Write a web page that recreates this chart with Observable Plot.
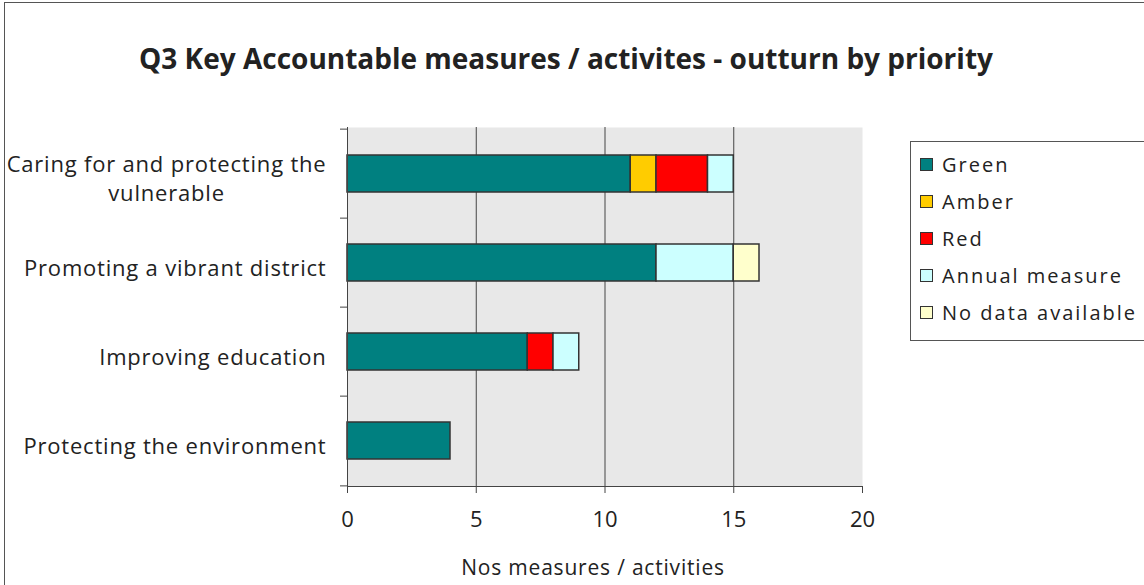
<!DOCTYPE html>
<html><head><meta charset="utf-8">
<script src="https://cdn.jsdelivr.net/npm/d3@7"></script>
<script src="https://cdn.jsdelivr.net/npm/@observablehq/plot@0.6"></script>
<style>
body{margin:0;background:#fff;font-family:"Open Sans",sans-serif;}
#wrap{position:relative;width:1144px;height:585px;overflow:hidden;background:#fff}
#border{position:absolute;left:4px;top:2px;width:1160px;height:620px;border:1px solid #555;box-sizing:border-box;pointer-events:none}
#title{position:absolute;left:0;width:1132px;top:38px;text-align:center;font-weight:bold;font-size:28px;color:#222;line-height:40px}
#chart{position:absolute;left:0;top:0}
#legend{position:absolute;left:910px;top:141px;width:240px;height:200px;border:1px solid #555;background:#fff;box-sizing:border-box;padding-top:4px}
.li{height:37px;display:flex;align-items:center;font-size:20px;letter-spacing:2px;color:#222;white-space:nowrap}
.sw{width:13px;height:13px;border:1px solid #333;margin-left:9px;margin-right:9px;flex:none;box-sizing:border-box}
</style>
</head><body>
<div id="wrap">
  <div id="chart"></div>
  <div id="title"></div>
  <div id="legend"></div>
  <div id="border"></div>
</div>
<script>
const titleText = "Q3 Key Accountable measures / activites - outturn by priority";
const xLabel = "Nos measures / activities";
const categories = ["Caring for and protecting the vulnerable", "Promoting a vibrant district", "Improving education", "Protecting the environment"];
const categoryLabels = ["Caring for and protecting the\nvulnerable", "Promoting a vibrant district", "Improving education", "Protecting the environment"];
const seriesNames = ["Green", "Amber", "Red", "Annual measure", "No data available"];
const seriesColors = ["#008080", "#FFCC00", "#FF0000", "#CCFFFF", "#FFFFCC"];
const green   = [11, 12, 7, 4];
const amber   = [1, 0, 0, 0];
const red     = [2, 0, 1, 0];
const annual  = [1, 3, 1, 0];
const noData  = [0, 1, 0, 0];
const xTicks = [0, 5, 10, 15, 20];

const seriesValues = [green, amber, red, annual, noData];
const rows = [];
categories.forEach((c, i) => {
  seriesNames.forEach((s, j) => {
    rows.push({category: c, series: s, value: seriesValues[j][i]});
  });
});
const bars = rows.filter(d => d.value > 0);

document.getElementById("title").textContent = titleText;

const W = 1144, H = 585;
const mL = 347, mR = 282, mT = 127, mB = 99;
const pxPerUnit = (W - mL - mR) / 20;
const step = (H - mT - mB) / categories.length;
const labelMap = new Map(categories.map((c, i) => [c, categoryLabels[i]]));

const plot = Plot.plot({
  width: W, height: H,
  marginLeft: mL, marginRight: mR, marginTop: mT, marginBottom: mB,
  style: {fontFamily: "Open Sans, sans-serif", color: "#222", background: "transparent"},
  x: {domain: [0, 20], ticks: xTicks},
  y: {domain: categories, paddingInner: 0.587, paddingOuter: 0.2935},
  color: {domain: seriesNames, range: seriesColors},
  marks: [
    Plot.frame({fill: "#e8e8e8", stroke: null}),
    Plot.gridX(xTicks.filter(t => t > 0 && t < 20), {stroke: "#444", strokeOpacity: 1, strokeWidth: 1}),
    Plot.barX(bars, Plot.stackX({x: "value", y: "category", fill: "series", order: seriesNames, stroke: "#333", strokeWidth: 1.5})),
    Plot.ruleX([0], {stroke: "#444", strokeWidth: 1}),
    Plot.frame({anchor: "bottom", stroke: "#444", strokeWidth: 1}),
    Plot.ruleY(categories, {y: d => d, dy: -step / 2, x1: -7 / pxPerUnit, x2: 0, stroke: "#444", clip: false}),
    Plot.ruleY(categories.slice(-1), {y: d => d, dy: step / 2, x1: -7 / pxPerUnit, x2: 0, stroke: "#444", clip: false}),
    Plot.axisX({ticks: xTicks, tickSize: 7, tickPadding: 18, fontSize: 22, label: null, stroke: "#444"}),
    Plot.axisY({tickSize: 0, tickPadding: 21, fontSize: 22, label: null, lineHeight: 1.35, dy: 3, tickFormat: d => labelMap.get(d), className: "ylab"}),
    Plot.text([xLabel], {frameAnchor: "bottom", dy: 82, dx: -12, fontSize: 21, lineAnchor: "middle"})
  ]
});
document.getElementById("chart").appendChild(plot);

// letter spacing for the category labels
d3.select(plot).selectAll("g[aria-label='y-axis tick label'] text").style("letter-spacing", "0.8px");

// center the lines of the multi-line category label within its right-aligned block
d3.select(plot).selectAll("text").each(function () {
  const t = d3.select(this);
  const spans = t.selectAll("tspan");
  if (spans.size() > 1) {
    const w = this.getBBox().width;
    t.attr("text-anchor", "middle");
    const tr = this.getAttribute("transform") || "";
    t.attr("transform", tr + ` translate(${-w / 2},0)`);
  }
});
// letter spacing for the axis title
d3.select(plot).selectAll("text").filter(function () { return this.textContent === xLabel; }).style("letter-spacing", "0.8px");

const legend = d3.select("#legend");
seriesNames.forEach((s, i) => {
  const row = legend.append("div").attr("class", "li");
  row.append("div").attr("class", "sw").style("background", seriesColors[i]);
  row.append("span").text(s);
});
</script>
</body></html>
